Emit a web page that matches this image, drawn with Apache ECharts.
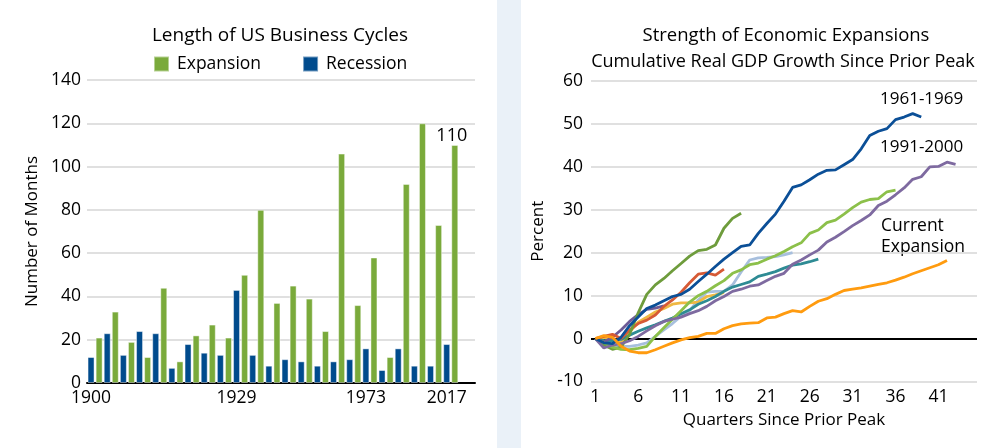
<!DOCTYPE html>
<html>
<head>
<meta charset="utf-8">
<script src="https://cdn.jsdelivr.net/npm/echarts@6/dist/echarts.min.js"></script>
<style>
html,body{margin:0;padding:0;background:#fff;}
#c{width:1000px;height:448px;}
</style>
</head>
<body>
<div id="c"></div>
<script>
// ---- Left chart: Length of US Business Cycles (months) ----
const cycleLabels = ['1900','','','','','','','','','1929','','','','','','','','1973','','','','','2017'];
const recession = [12,23,13,24,23,7,18,14,13,43,13,8,11,10,8,10,11,16,6,16,8,8,18];
const expansion = [21,33,19,12,44,10,22,27,21,50,80,37,45,39,24,106,36,58,12,92,120,73,110];
const monthTicks = [0,20,40,60,80,100,120,140];

// ---- Right chart: cumulative real GDP growth since prior peak (%) ----
const quarters = [];
for (let q = 1; q <= 45; q++) quarters.push(String(q));
const exp1949 = [0,-1.5,-2.5,-2,1,6,10.3,12.5,14,15.8,17.5,19.2,20.5,20.8,21.8,25.7,28,29.2];
const exp1954 = [0,0.5,1,0,2,3.5,4.3,5.5,7.5,9,10.8,13,15,15.3,14.8,16.2];
const exp1958 = [0,-0.8,0.3,2,4,5.6,6.8,7.1,7.6];
const exp1961 = [0,-1,-1.2,0.3,3,5,7,7.8,8.8,9.8,10.3,11.5,13.3,15,16.8,18.5,20,21.5,21.8,24.5,26.8,29,32,35.2,35.8,37,38.3,39.2,39.3,40.5,41.7,44.2,47.3,48.3,48.9,51,51.6,52.4,51.6];
const exp1970 = [0,0.3,-0.5,-1,1.5,3.8,5,6.2,7,8,8.3,8.3,8.5,9.8,10.2,10.7];
const exp1975 = [0,-1,-1.5,-1.8,-1.8,-1.5,-1,0.5,2,3.5,5.2,6.5,9,10.8,11,11,12.5,15.5,18.3,18.8,18.9,19.1,19.5,20];
const exp1982 = [0,-1,-2,-2.5,-2.6,-2.3,-1.8,0.5,2.5,4.5,6.5,8.5,10,11,12.3,13.5,15.2,16,17.2,17.6,18.5,19.3,20.3,21.4,22.3,24.5,25.3,27,27.6,29,30.5,31.8,32.4,32.6,34.2,34.6];
const exp1991 = [0,-2.2,-1.5,-1.2,-0.5,0.5,1.8,3,4,4.5,5,5.8,6.5,7.5,8.8,9.8,11,11.5,12.2,12.5,13.5,14.5,15.2,17.3,18.3,19.5,20.6,22.5,23.6,24.9,26.3,27.5,28.8,31,32,33.5,35.1,37.1,37.7,40,40.1,41.1,40.6];
const exp2001 = [0,-0.5,-0.5,-0.2,0.8,1.7,2.5,3.2,4,4.8,5.8,6.7,8,8.8,9.8,11,12,12.6,13.2,14.5,15,15.6,16.4,17.1,17.4,17.9,18.5];
const expCurrent = [0,0.7,0.3,-1.8,-2.9,-3.3,-3.3,-2.6,-1.8,-1,-0.3,0.2,0.5,1.2,1.2,2.3,3,3.4,3.6,3.7,4.8,5,5.8,6.5,6.2,7.5,8.7,9.3,10.3,11.2,11.5,11.8,12.2,12.6,13,13.6,14.3,15.1,15.8,16.5,17.2,18.2];
const percentTicks = [-10,0,10,20,30,40,50,60];

const FONT = '"Open Sans", "Noto Sans", sans-serif';
const TXT = '#000';
const BLUE = '#004B8D', GREEN = '#7AAA3B';

// build the 48-slot bar category axis (pairs: recession, expansion) + 2 empty slots
const slots = [], recData = [], expData = [];
cycleLabels.forEach((lab, i) => {
  slots.push(lab); recData.push(recession[i]); expData.push(null);
  slots.push(''); recData.push(null); expData.push(expansion[i]);
});
slots.push(''); recData.push(null); expData.push(null);
slots.push(''); recData.push(null); expData.push(null);
// label on the last expansion bar
const lastIdx = expData.length - 3;
expData[lastIdx] = {value: expData[lastIdx], label: {show: true, position: 'top', distance: 0, offset: [-3, 0], color: TXT, fontSize: 18, fontFamily: FONT}};

const lineDefs = [
  ['1975-1980', exp1975, '#A7BFDD'],
  ['1970-1973', exp1970, '#EFB843'],
  ['2001-2007', exp2001, '#2E8B94'],
  ['1958-1960', exp1958, '#6D5A96'],
  ['1954-1957', exp1954, '#D65A35'],
  ['1949-1953', exp1949, '#6E9C3C'],
  ['1982-1990', exp1982, '#8CC04A'],
  ['1991-2000', exp1991, '#7E6AA0'],
  ['1961-1969', exp1961, '#0B4F97'],
  ['Current Expansion', expCurrent, '#FF9B0F']
];

const lineSeries = lineDefs.map((d, i) => ({
  name: d[0], type: 'line', xAxisIndex: 1, yAxisIndex: 1,
  data: d[1], symbol: 'none', smooth: false,
  lineStyle: {color: d[2], width: 2.8}, itemStyle: {color: d[2]},
  z: 3 + i
}));
lineSeries[0].markLine = {
  silent: true, symbol: ['none', 'none'], label: {show: false},
  lineStyle: {color: '#000', width: 2, type: 'solid'},
  data: [{yAxis: 0}], z: 2
};

const chart = echarts.init(document.getElementById('c'), null, {renderer: 'canvas'});
chart.setOption({
  animation: false,
  backgroundColor: '#fff',
  textStyle: {fontFamily: FONT, color: TXT},
  graphic: [
    {type: 'rect', shape: {x: 497, y: 0, width: 24, height: 448}, style: {fill: '#EAF1F8'}, z: 0},
    {type: 'text', x: 280, y: 36, style: {text: 'Length of US Business Cycles', font: '19px ' + FONT, fill: TXT, align: 'center', verticalAlign: 'middle'}},
    {type: 'text', x: 786, y: 36, style: {text: 'Strength of Economic Expansions', font: '18.5px ' + FONT, fill: TXT, align: 'center', verticalAlign: 'middle'}},
    {type: 'text', x: 783, y: 61.5, style: {text: 'Cumulative Real GDP Growth Since Prior Peak', font: '18px ' + FONT, fill: TXT, align: 'center', verticalAlign: 'middle'}},
    {type: 'text', x: 880, y: 99, style: {text: '1961-1969', font: '17px ' + FONT, fill: TXT, align: 'left', verticalAlign: 'middle'}},
    {type: 'text', x: 880, y: 147, style: {text: '1991-2000', font: '17px ' + FONT, fill: TXT, align: 'left', verticalAlign: 'middle'}},
    {type: 'text', x: 881, y: 226, style: {text: 'Current', font: '17.5px ' + FONT, fill: TXT, align: 'left', verticalAlign: 'middle'}},
    {type: 'text', x: 881, y: 247, style: {text: 'Expansion', font: '17.5px ' + FONT, fill: TXT, align: 'left', verticalAlign: 'middle'}}
  ],
  legend: {
    data: ['Expansion', 'Recession'], left: 153, top: 55, padding: 0, icon: 'rect',
    itemWidth: 15, itemHeight: 15, itemGap: 41, selectedMode: false,
    textStyle: {fontSize: 17.5, fontFamily: FONT, color: TXT, padding: [0, 0, 0, 3]}
  },
  grid: [
    {left: 87, top: 80, width: 388, height: 303},
    {left: 591, top: 81, width: 386, height: 300.5}
  ],
  xAxis: [
    {
      type: 'category', gridIndex: 0, data: slots, boundaryGap: true,
      axisLine: {onZero: false, lineStyle: {color: '#000', width: 2}},
      axisTick: {show: false},
      axisLabel: {interval: 0, margin: 6, fontSize: 17.5, fontFamily: FONT, color: TXT}
    },
    {
      type: 'category', gridIndex: 1, data: quarters, boundaryGap: true,
      axisLine: {show: false, onZero: false}, axisTick: {show: false},
      axisLabel: {interval: 4, margin: 7, fontSize: 17.5, fontFamily: FONT, color: TXT},
      name: 'Quarters Since Prior Peak', nameLocation: 'middle', nameGap: 28,
      nameTextStyle: {fontSize: 17, fontFamily: FONT, color: TXT}
    }
  ],
  yAxis: [
    {
      type: 'value', gridIndex: 0, min: monthTicks[0], max: monthTicks[monthTicks.length - 1], interval: 20,
      axisLine: {show: false}, axisTick: {show: false},
      axisLabel: {margin: 6, fontSize: 17.5, fontFamily: FONT, color: TXT},
      splitLine: {lineStyle: {color: '#D6D6D6', width: 1.5}},
      name: 'Number of Months', nameLocation: 'middle', nameGap: 46,
      nameTextStyle: {fontSize: 17, fontFamily: FONT, color: TXT}
    },
    {
      type: 'value', gridIndex: 1, min: percentTicks[0], max: percentTicks[percentTicks.length - 1], interval: 10,
      axisLine: {show: false}, axisTick: {show: false},
      axisLabel: {margin: 8, fontSize: 17.5, fontFamily: FONT, color: TXT},
      splitLine: {lineStyle: {color: '#D6D6D6', width: 1.5}},
      name: 'Percent', nameLocation: 'middle', nameGap: 44,
      nameTextStyle: {fontSize: 17, fontFamily: FONT, color: TXT}
    }
  ],
  series: [
    {
      name: 'Recession', type: 'bar', xAxisIndex: 0, yAxisIndex: 0, data: recData,
      barWidth: 7, barGap: '-100%',
      itemStyle: {color: BLUE, borderColor: 'rgba(255,255,255,0.45)', borderWidth: 1}
    },
    {
      name: 'Expansion', type: 'bar', xAxisIndex: 0, yAxisIndex: 0, data: expData,
      barWidth: 7, barGap: '-100%',
      itemStyle: {color: GREEN, borderColor: 'rgba(255,255,255,0.45)', borderWidth: 1}
    }
  ].concat(lineSeries)
});
</script>
</body>
</html>
